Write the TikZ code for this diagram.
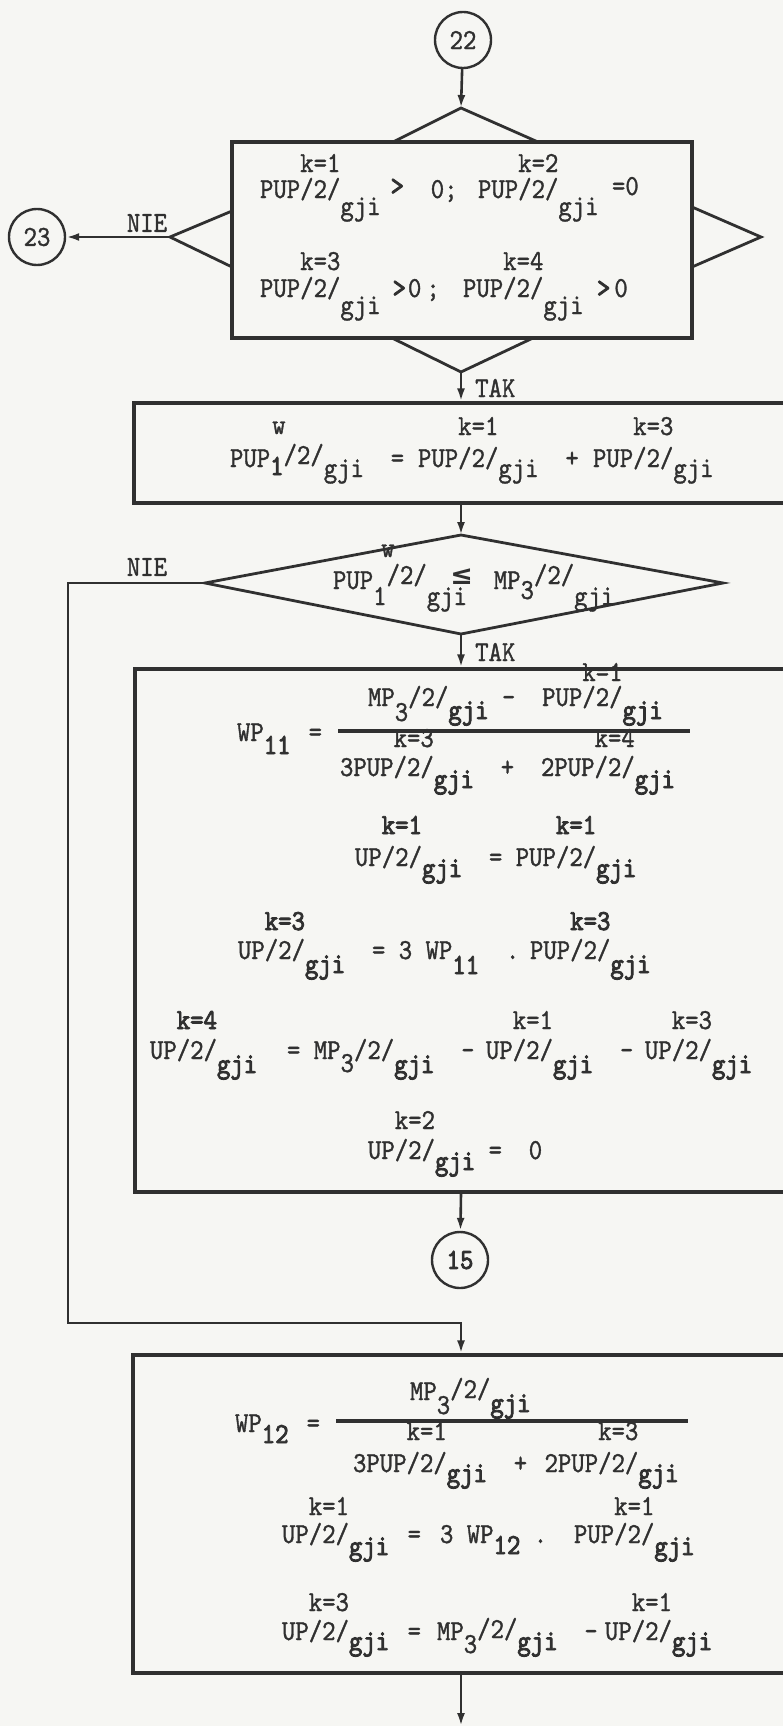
\documentclass[tikz,border=0pt]{standalone}
\usepackage{fontspec}
\newfontfamily\tw{lmmono10-regular.otf}[FakeStretch=0.88,FakeBold=1.2]
\newfontfamily\twb{lmmono10-regular.otf}[FakeStretch=0.88,FakeBold=3]
\newfontfamily\sym{DejaVu Sans}
\usetikzlibrary{arrows.meta}
\definecolor{ink}{RGB}{48,48,48}
\definecolor{paper}{RGB}{246,246,243}
\newcommand\supr{30pt}
\newcommand\subr{12pt}
\newcommand\lo[2][12pt]{\raisebox{-#1}{#2}}
\newcommand\tm[3]{#1\llap{\raisebox{\supr}{#2}}\raisebox{-\subr}{#3}}
\tikzset{
  tx/.style={anchor=base west, inner sep=0pt, outer sep=0pt, text=ink, font=\tw\fontsize{29}{29}\selectfont},
  lab/.style={inner sep=0pt, text=ink, font=\tw\fontsize{29}{29}\selectfont},
  box/.style={draw=ink, line width=3.2pt, inner sep=0pt},
  cir/.style={draw=ink, circle, line width=2.4pt, minimum size=56pt, inner sep=0pt, text=ink, font=\tw\fontsize{29}{29}\selectfont},
  tri/.style={draw=ink, line width=2.8pt},
  ln/.style={draw=ink, line width=2.6pt},
  arr/.style={ln, -{Latex[length=13pt,width=8pt]}},
  bar/.style={draw=ink, line width=3.5pt},
}
\begin{document}
\begin{tikzpicture}[x=1pt,y=-1pt]
\useasboundingbox (0,0) rectangle (783,1726);
\clip (0,0) rectangle (783,1726);
\fill[paper] (0,0) rectangle (783,1726);

% connector circles
\node[cir] (c22) at (463,40) {22};
\node[cir] (c23) at (37,237) {23};
\node[cir, font=\twb\fontsize{29}{29}\selectfont] (c15) at (460,1260) {15};

% boxes
\node[box, minimum width=460pt, minimum height=196pt] (b1) at (462,240) {};
\node[box, minimum width=676pt, minimum height=100pt] (b2) at (472,453) {};
\node[box, minimum width=675pt, minimum height=523pt] (b3) at (472.5,930.5) {};
\node[box, minimum width=677pt, minimum height=318pt] (b4) at (471.5,1514) {};

% triangles on box 1
\coordinate (tT) at (461,108); \coordinate (tTl) at (393,142); \coordinate (tTr) at (538,142);
\coordinate (tL) at (170,237); \coordinate (tLa) at (232,211); \coordinate (tLb) at (232,267);
\coordinate (tR) at (761,237); \coordinate (tRa) at (692,207); \coordinate (tRb) at (692,267);
\coordinate (tB) at (461,372); \coordinate (tBl) at (392,338); \coordinate (tBr) at (533,338);
\draw[tri] (tTl) -- (tT) -- (tTr);
\draw[tri] (tLa) -- (tL) -- (tLb);
\draw[tri] (tRa) -- (tR) -- (tRb);
\draw[tri] (tBl) -- (tB) -- (tBr);

% decision diamond
\coordinate (dT) at (461,535); \coordinate (dL) at (205,583);
\coordinate (dR) at (723,583); \coordinate (dB) at (461,634);
\draw[tri, line join=miter] (dT) -- (dR) -- (dB) -- (dL) -- cycle;

% connectors
\draw[arr] (c22) -- (tT);
\draw[arr] (tL) -- (c23);
\draw[arr] (tB) -- (tB |- b2.north);
\draw[arr] (b2.south -| tB) -- (dT);
\draw[arr] (dB) -- (dB |- b3.north);
\draw[arr] (b3.south -| dB) -- (c15);
\coordinate (nA) at (68,1323); \coordinate (nB) at (461,1323);
\draw[arr] (dL) -| (nA) -- (nB) -- (nB |- b4.north);
\coordinate (endP) at (461,1726);
\draw[arr] (b4.south -| nB) -- (endP);

% labels
\node[lab] (nie1) at (147,223) {NIE};
\node[lab, anchor=west] (tak1) at (475,388) {TAK};
\node[lab] (nie2) at (147,567) {NIE};
\node[lab, anchor=west] (tak2) at (475,652) {TAK};

% box 1 text
\node[tx] (t1a) at (260,198) {\renewcommand\supr{26pt}\renewcommand\subr{17pt}\tm{PUP/2/}{k=1}{gji}\kern10pt\raisebox{3pt}{\twb >}~~0;};
\node[tx] (t1b) at (478,198) {\renewcommand\supr{26pt}\renewcommand\subr{17pt}\tm{PUP/2/}{k=2}{gji}~\raisebox{3pt}{=0}};
\node[tx] (t1c) at (260,297) {\renewcommand\supr{27pt}\renewcommand\subr{17pt}\tm{PUP/2/}{k=3}{gji}\kern12pt\twb>\tw\kern2pt0\kern5pt;};
\node[tx] (t1d) at (463,297) {\renewcommand\supr{27pt}\renewcommand\subr{17pt}\tm{PUP/2/}{k=4}{gji}~\twb>\tw\kern4pt0};

% box 2 text
\node[tx] (t2a) at (230,467) {PUP\rlap{\kern2pt\raisebox{33pt}{w}}\lo[8pt]{\twb 1}\raisebox{3pt}{/2/}\lo[10pt]{gji}~~=};
\node[tx] (t2b) at (418,467) {\renewcommand\supr{32pt}\renewcommand\subr{10pt}\tm{PUP/2/}{k=1}{gji}~~+};
\node[tx] (t2c) at (593,467) {\renewcommand\supr{32pt}\renewcommand\subr{10pt}\tm{PUP/2/}{k=3}{gji}};

% diamond text
\node[tx] (td) at (333,589) {PUP\rlap{\kern8pt\raisebox{32pt}{w}}\lo[16pt]{1}\raisebox{5pt}{/2/}\lo[16pt]{gji}\llap{\raisebox{5pt}{\sym\bfseries\fontsize{27}{27}\selectfont ≤}\kern-6pt}~~MP\lo[10pt]{3}\raisebox{5pt}{/2/}\lo[16pt]{gji}};

% box 3 text
\node[tx] (t3wp) at (237,741) {WP\lo[13pt]{\twb 11}\kern18pt=};
\node[tx] (t3n) at (368,706) {MP\lo[15pt]{3}/2/\lo[13pt]{\twb gji}~-~~\renewcommand\supr{25pt}\renewcommand\subr{13pt}\tm{PUP/2/}{k=1}{\twb gji}};
\draw[bar] (338,731) -- (690,731);
\node[tx] (t3d) at (340,776) {\renewcommand\supr{29pt}\tm{3PUP/2/}{k=3}{\twb gji}~~+~~\tm{2PUP/2/}{k=4}{\twb gji}};
\node[tx] (t3b) at (355,866) {\renewcommand\supr{32pt}\renewcommand\subr{11pt}\tm{UP/2/}{\twb k=1}{\twb gji}~~=~\tm{PUP/2/}{\twb k=1}{\twb gji}};
\node[tx] (t3c) at (238,959) {\renewcommand\supr{29pt}\renewcommand\subr{14pt}\tm{UP/2/}{\twb k=3}{\twb gji}~~=~3~WP\lo[15pt]{\twb 11}~~.};
\node[tx] (t3c2) at (530,959) {\renewcommand\supr{29pt}\renewcommand\subr{14pt}\tm{PUP/2/}{\twb k=3}{\twb gji}};
\node[tx] (t3e1) at (150,1059) {\renewcommand\subr{14pt}\tm{UP/2/}{\twb k=4}{\twb gji}};
\node[tx] (t3e2) at (287,1059) {=~MP\lo[13pt]{3}/2/\lo[14pt]{\twb gji}~~-};
\node[tx] (t3e3) at (486,1059) {\renewcommand\subr{14pt}\tm{UP/2/}{k=1}{\twb gji}~~-};
\node[tx] (t3e4) at (645,1059) {\renewcommand\subr{14pt}\tm{UP/2/}{k=3}{\twb gji}};
\node[tx] (t3f) at (368,1159) {\renewcommand\subr{11pt}\tm{UP/2/}{k=2}{\twb gji}~=~~0};

% box 4 text
\node[tx] (t4wp) at (235,1432) {WP\lo[11pt]{\twb 12}\kern18pt=};
\node[tx] (t4n) at (410,1400) {MP\lo[14pt]{3}\raisebox{2pt}{/2/}\lo[12pt]{\twb gji}};
\draw[bar] (336,1421) -- (688,1421);
\node[tx] (t4d) at (353,1472) {\renewcommand\supr{32pt}\renewcommand\subr{10pt}\tm{3PUP/2/}{k=1}{\twb gji}~~+~\kern4pt\tm{2PUP/2/}{k=3}{\twb gji}};
\node[tx] (t4b) at (282,1543) {\renewcommand\supr{28pt}\tm{UP/2/}{k=1}{\twb gji}~\kern5pt=};
\node[tx] (t4b2) at (440,1543) {3~WP\lo[11pt]{\twb 12}~.~~\renewcommand\supr{28pt}\tm{PUP/2/}{k=1}{\twb gji}};
\node[tx] (t4c) at (282,1640) {\renewcommand\supr{29pt}\renewcommand\subr{10pt}\tm{UP/2/}{k=3}{\twb gji}~\kern5pt=};
\node[tx] (t4c2) at (437,1640) {MP\lo[13pt]{3}\raisebox{2pt}{/2/}\lo[10pt]{\twb gji}~~-};
\node[tx] (t4c3) at (605,1640) {\renewcommand\supr{29pt}\renewcommand\subr{10pt}\tm{UP/2/}{k=1}{\twb gji}};
\end{tikzpicture}
\end{document}
